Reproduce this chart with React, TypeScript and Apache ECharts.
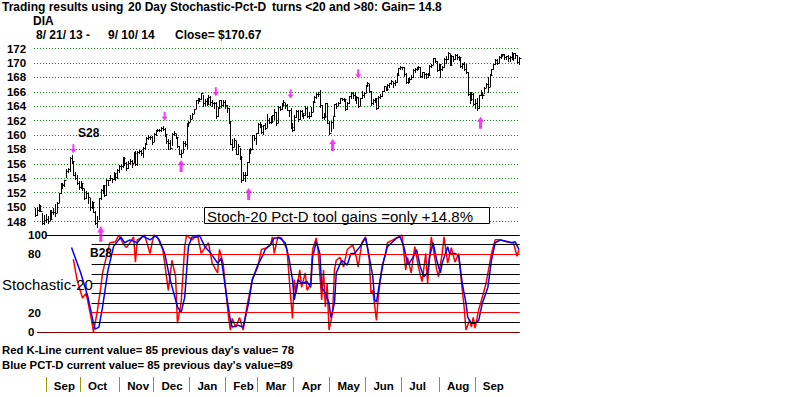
import React, { useEffect, useRef } from 'react';
import * as echarts from 'echarts';

// ---------- DATA ----------
const MONTHS = ['Aug', 'Sep', 'Oct', 'Nov', 'Dec', 'Jan', 'Feb', 'Mar', 'Apr', 'May', 'Jun', 'Jul', 'Aug', 'Sep'];
const MONTH_DAYS = [8, 20, 23, 20, 21, 21, 19, 21, 21, 21, 21, 22, 21, 7];

const closes = [
  148.97, 149.63, 150.10, 149.46, 147.76, 148.24, 148.40, 148.10,
  148.33, 149.30, 149.37, 149.22, 150.63, 151.91, 153.26, 153.00, 153.76, 154.94, 155.29, 156.76, 156.36, 154.51, 154.01, 153.34, 152.73, 153.28, 152.58, 151.29,
  151.91, 151.33, 149.96, 150.72, 149.36, 147.76, 148.02, 151.26, 152.37, 153.01, 151.68, 153.73, 153.71, 153.99, 153.92, 154.67, 154.13, 155.09, 155.70, 155.68, 156.80, 156.18, 155.46,
  156.15, 156.39, 156.18, 157.46, 155.93, 157.62, 157.83, 157.50, 158.21, 158.76, 159.61, 159.76, 159.67, 159.00, 160.09, 160.64, 160.73, 160.72, 160.97, 160.86,
  160.08, 159.14, 158.89, 158.21, 160.20, 160.25, 159.73, 158.44, 157.39, 157.55, 158.84, 158.75, 161.67, 161.79, 162.21, 162.94, 163.58, 164.79, 164.78, 165.05, 165.77,
  164.41, 164.70, 164.25, 165.30, 164.62, 164.44, 164.37, 162.57, 163.74, 164.81, 164.18, 164.59, 164.15, 163.73, 161.98, 158.79, 158.38, 159.29, 157.39, 158.49, 156.99,
  153.73, 154.45, 154.40, 156.28, 157.95, 158.01, 159.94, 159.64, 160.27, 161.54, 161.30, 160.40, 161.33, 161.04, 162.08, 161.79, 161.98, 162.72, 163.22,
  161.68, 163.95, 163.61, 164.22, 164.53, 164.19, 163.51, 163.40, 161.09, 160.66, 162.48, 163.37, 162.23, 163.32, 163.03, 162.76, 163.68, 162.68, 162.64, 163.23, 164.58,
  165.33, 165.73, 165.73, 164.13, 162.46, 162.57, 164.38, 161.71, 160.27, 161.74, 162.63, 164.25, 164.09, 164.50, 165.15, 165.02, 165.01, 163.61, 164.49, 165.36, 165.81,
  165.59, 165.13, 165.31, 164.02, 165.18, 165.50, 165.84, 166.96, 167.16, 166.14, 164.47, 164.92, 165.11, 163.75, 165.33, 165.43, 166.06, 166.76, 166.33, 166.99, 167.17,
  167.43, 167.22, 167.38, 168.36, 169.24, 169.43, 169.45, 168.43, 167.34, 167.76, 167.81, 168.08, 169.06, 169.21, 169.47, 169.37, 168.18, 168.68, 168.46, 168.51, 168.27,
  169.56, 169.76, 170.68, 170.24, 169.06, 169.85, 169.15, 169.44, 170.55, 170.60, 171.38, 169.77, 171.00, 170.52, 171.13, 170.86, 170.83, 169.60, 169.82, 169.12, 168.80, 165.63,
  164.93, 165.69, 164.29, 164.43, 163.68, 165.53, 165.69, 165.60, 166.51, 167.13, 166.62, 168.38, 169.19, 169.79, 170.39, 170.01, 170.76, 171.07, 171.22, 170.79, 170.98,
  170.68, 170.78, 170.69, 171.38, 171.12, 170.14, 170.67,
];

const highs = [
  149.9, 150.0, 150.4, 150.3, 149.2, 148.9, 149.1, 148.7,
  149.6, 149.6, 149.9, 150.4, 150.7, 152.0, 153.3, 153.3, 153.8, 155.3, 155.4, 156.9, 157.2, 156.4, 154.8, 154.4, 153.6, 153.6, 153.2, 152.5,
  152.2, 151.9, 151.3, 150.9, 150.7, 149.5, 148.7, 151.3, 152.5, 153.1, 153.0, 153.9, 153.8, 154.4, 154.1, 154.8, 154.7, 155.3, 155.9, 155.9, 156.9, 156.9, 156.3,
  156.4, 156.7, 156.6, 157.7, 157.8, 157.8, 157.9, 157.9, 158.3, 158.9, 159.7, 160.0, 159.9, 159.9, 160.3, 160.7, 160.9, 160.9, 161.1, 161.2,
  161.0, 160.1, 159.4, 159.3, 160.3, 160.5, 160.2, 159.7, 158.5, 157.9, 159.2, 159.1, 161.7, 161.9, 162.8, 163.1, 163.6, 164.9, 165.1, 165.2, 165.8,
  165.6, 165.0, 165.1, 165.5, 165.4, 164.9, 164.6, 164.6, 163.9, 164.9, 164.8, 164.8, 164.9, 164.2, 163.7, 161.9, 159.4, 159.6, 159.2, 158.7, 158.2,
  157.1, 154.9, 154.8, 156.3, 158.0, 158.2, 160.0, 160.0, 160.3, 161.6, 161.8, 161.5, 161.4, 161.6, 162.9, 162.4, 162.6, 162.8, 163.6,
  163.2, 164.0, 164.0, 164.4, 164.8, 164.5, 164.3, 163.5, 163.7, 161.6, 162.8, 163.5, 163.4, 163.4, 163.5, 163.1, 164.0, 163.9, 163.2, 163.9, 164.7,
  165.4, 165.8, 166.0, 166.3, 164.2, 163.0, 164.4, 164.4, 161.9, 162.0, 162.7, 164.3, 164.4, 164.6, 165.2, 165.2, 165.2, 164.9, 164.6, 165.4, 165.9,
  166.0, 165.9, 165.4, 165.3, 165.2, 166.1, 165.9, 167.0, 167.3, 167.1, 166.1, 165.0, 165.2, 165.1, 165.4, 165.7, 166.1, 166.8, 166.7, 167.1, 167.2,
  167.6, 167.4, 167.6, 168.6, 169.3, 169.6, 169.5, 169.4, 168.6, 167.9, 168.1, 168.3, 169.1, 169.3, 169.5, 169.6, 169.5, 168.8, 168.7, 168.6, 168.6,
  169.7, 169.8, 170.7, 170.7, 170.2, 169.9, 169.8, 169.6, 170.7, 170.9, 171.5, 171.3, 171.1, 171.0, 171.3, 171.2, 171.0, 170.8, 170.0, 170.1, 169.8, 168.8,
  165.9, 165.9, 165.8, 165.0, 165.1, 165.6, 166.2, 165.9, 166.6, 167.2, 168.0, 168.5, 169.2, 169.8, 170.6, 170.5, 170.9, 171.2, 171.3, 171.2, 171.0,
  171.1, 171.0, 171.5, 171.4, 171.4, 171.1, 170.8,
];

const lows = [
  148.8, 148.9, 149.4, 149.4, 147.7, 147.6, 148.0, 147.8,
  148.2, 148.3, 149.1, 148.7, 149.3, 150.7, 151.9, 152.6, 152.9, 154.2, 154.8, 155.0, 156.1, 154.5, 153.9, 153.2, 152.5, 152.7, 152.4, 151.1,
  151.2, 150.6, 149.6, 149.9, 149.3, 147.7, 147.3, 148.4, 151.1, 151.9, 151.6, 151.7, 153.1, 153.7, 153.5, 153.9, 153.8, 154.1, 154.9, 155.3, 155.6, 155.8, 155.2,
  155.4, 156.0, 155.6, 156.2, 155.9, 155.8, 157.5, 157.2, 157.0, 158.1, 158.8, 159.5, 159.4, 158.7, 159.1, 160.0, 160.5, 160.5, 160.6, 160.7,
  159.8, 158.9, 158.0, 158.0, 158.6, 160.0, 159.6, 158.4, 157.3, 157.0, 157.7, 158.5, 158.2, 161.2, 161.9, 162.4, 163.0, 163.7, 164.5, 164.7, 165.0,
  164.0, 164.2, 164.1, 164.3, 164.2, 164.0, 163.8, 162.4, 162.6, 163.8, 163.9, 164.0, 163.7, 163.2, 161.7, 158.7, 157.9, 158.5, 157.3, 157.4, 156.7,
  153.5, 153.7, 153.6, 154.4, 156.3, 157.5, 158.0, 159.3, 158.7, 160.3, 161.1, 160.3, 160.2, 160.9, 161.1, 161.6, 161.6, 161.8, 162.2,
  161.4, 161.8, 163.4, 163.6, 164.1, 163.8, 163.4, 162.6, 161.0, 160.6, 160.7, 162.5, 161.9, 162.2, 162.7, 162.3, 162.8, 162.5, 162.3, 162.7, 163.3,
  164.6, 165.2, 165.4, 163.9, 162.4, 162.2, 162.5, 161.6, 160.2, 160.6, 161.0, 162.6, 163.8, 164.1, 164.5, 164.8, 164.7, 163.5, 163.6, 164.5, 165.1,
  165.2, 164.8, 164.5, 163.9, 164.1, 165.1, 165.3, 165.9, 166.8, 166.0, 164.1, 164.3, 164.6, 163.6, 163.8, 165.1, 165.4, 166.1, 166.2, 166.3, 166.6,
  167.1, 166.7, 167.0, 167.3, 168.3, 169.2, 169.2, 168.2, 167.2, 167.2, 167.4, 167.7, 168.0, 168.8, 169.0, 169.2, 168.1, 168.1, 167.9, 167.9, 168.1,
  168.3, 169.4, 169.8, 170.1, 168.9, 169.0, 168.0, 169.0, 169.5, 170.0, 170.6, 169.7, 169.8, 170.3, 170.6, 170.6, 170.4, 169.4, 169.3, 169.0, 168.6, 165.6,
  164.5, 164.9, 164.1, 163.7, 163.4, 163.7, 165.5, 165.2, 165.8, 166.6, 166.0, 166.8, 168.5, 169.1, 169.9, 169.8, 170.1, 170.7, 171.0, 170.5, 170.5,
  170.3, 170.3, 170.5, 170.4, 170.7, 170.0, 169.9,
];

// Stochastic (day index, value)
const kLine = [
  [21, 75], [23, 54], [26, 35], [28, 40], [31, 12], [32, 0], [34, 20], [36, 46], [37, 61], [39, 77], [41, 92], [44, 93], [46, 100], [48, 92], [50, 87], [52, 92], [54, 98], [55, 72], [56, 95], [59, 98], [60, 100], [63, 81], [65, 100], [67, 98], [70, 85], [71, 71], [73, 43], [75, 74], [77, 57], [78, 9], [80, 30], [82, 88], [83, 100], [86, 95], [89, 100], [91, 81], [95, 92], [97, 71], [100, 61], [101, 85], [103, 71], [106, 15], [107, 2], [108, 14], [110, 5], [112, 15], [114, 2], [116, 26], [119, 54], [122, 67], [124, 85], [127, 87], [129, 90], [130, 98], [131, 81], [133, 98], [135, 97], [138, 85], [140, 36], [141, 14], [142, 54], [143, 40], [145, 64], [146, 46], [148, 61], [149, 43], [151, 50], [152, 85], [154, 97], [155, 85], [157, 33], [158, 64], [159, 26], [160, 50], [161, 2], [163, 20], [164, 64], [165, 74], [167, 77], [169, 67], [171, 85], [174, 90], [176, 77], [177, 67], [179, 92], [181, 98], [183, 77], [184, 40], [185, 43], [187, 12], [188, 36], [190, 67], [192, 81], [193, 92], [196, 95], [199, 98], [201, 100], [203, 64], [204, 77], [206, 61], [208, 88], [210, 67], [212, 52], [214, 81], [215, 50], [217, 98], [218, 88], [220, 64], [221, 57], [223, 81], [224, 98], [226, 71], [228, 87], [230, 72], [232, 81], [234, 43], [235, 26], [236, 2], [238, 12], [239, 5], [240, 15], [241, 4], [243, 23], [245, 36], [247, 50], [250, 81], [252, 95], [255, 95], [258, 93], [262, 92], [264, 78], [265, 85],
];
const dLine = [
  [20, 87], [25, 61], [29, 36], [32, 9], [33, 3], [35, 5], [37, 26], [40, 64], [43, 88], [47, 98], [49, 92], [52, 95], [56, 92], [59, 99], [63, 95], [66, 99], [68, 95], [71, 81], [74, 54], [78, 26], [80, 20], [82, 36], [84, 88], [86, 98], [89, 98], [90, 100], [93, 88], [96, 82], [100, 71], [102, 76], [105, 36], [107, 12], [108, 5], [111, 7], [114, 5], [117, 30], [119, 54], [122, 69], [125, 80], [126, 85], [129, 90], [131, 97], [134, 97], [137, 92], [139, 77], [141, 54], [142, 33], [144, 54], [146, 50], [149, 52], [151, 46], [152, 77], [154, 93], [156, 81], [157, 46], [159, 40], [161, 30], [162, 15], [164, 30], [165, 61], [168, 74], [171, 69], [173, 81], [175, 81], [178, 88], [181, 97], [182, 88], [185, 57], [186, 33], [187, 31], [189, 54], [191, 74], [193, 88], [196, 93], [198, 97], [200, 98], [202, 88], [204, 71], [205, 71], [207, 77], [209, 85], [211, 67], [213, 57], [215, 61], [216, 77], [218, 92], [220, 74], [222, 61], [223, 71], [226, 88], [227, 81], [230, 81], [232, 79], [234, 50], [236, 30], [237, 15], [239, 9], [241, 9], [243, 12], [245, 30], [248, 46], [250, 74], [252, 92], [255, 95], [259, 93], [261, 92], [263, 93], [264, 89], [265, 85],
];

// Signals: [day index, price level of arrow]
const sellSignals = [[21, 158.1], [71, 162.6], [99, 166.0], [140, 165.7], [177, 168.5]];
const buySignals = [[36, 146.3], [80, 155.7], [117, 151.8], [163, 158.6], [244, 161.7]];

const PRICE_MIN = 148;
const PRICE_MAX = 172;
const PRICE_STEP = 2;
const STOCH_LABELS = [0, 20, 80, 100];

// horizontal guide lines in stochastic panel: value, start day index, color
const STOCH_LINES = [
  { v: 100, from: 5.5, color: '#000000' },
  { v: 90, from: 31, color: '#000000' },
  { v: 80, from: 41, color: '#ff0000' },
  { v: 70, from: 31, color: '#000000' },
  { v: 60, from: 31, color: '#000000' },
  { v: 50, from: 31, color: '#000000' },
  { v: 40, from: 31, color: '#000000' },
  { v: 30, from: 31, color: '#000000' },
  { v: 20, from: 31, color: '#ff0000' },
  { v: 10, from: 31, color: '#000000' },
  { v: 0, from: 1, color: '#800000' },
];

const FF = '"Liberation Sans", Arial, Helvetica, sans-serif';
const BOLD12 = `bold 12px ${FF}`;
const BOLDSM = `bold 11.3px ${FF}`;
const SEP_COLOR = '#999900';

export default function App() {
  const ref = useRef<HTMLDivElement>(null);

  useEffect(() => {
    if (!ref.current) return;
    const chart = echarts.init(ref.current, null, { renderer: 'svg' });

    const nDays = closes.length;
    const dayCats: string[] = [];
    const monthStarts: number[] = [];
    MONTHS.forEach((m, mi) => {
      monthStarts.push(dayCats.length);
      for (let d = 0; d < MONTH_DAYS[mi]; d++) dayCats.push(`${m}|${mi}|${d}`);
    });
    const seps = monthStarts.slice(1);
    const sepSet = new Set(seps);

    const barData = closes.map((c, i) => [i, lows[i], highs[i], c]);
    const xMin = -0.5;
    const xMax = nDays - 0.5;

    const text = (t: string, x: number, y: number, font = BOLD12) => ({
      type: 'text',
      x,
      y,
      z: 100,
      style: { text: t, font, fill: '#000', textAlign: 'left', textVerticalAlign: 'middle', verticalAlign: 'middle' },
    });

    const option: any = {
      animation: false,
      backgroundColor: '#ffffff',
      grid: [
        { left: 34.1, top: 48.5, width: 485.7, height: 173, outerBoundsMode: 'none' },
        { left: 34.1, top: 235, width: 485.7, height: 97, outerBoundsMode: 'none' },
        { left: 31.3, top: 377, width: 454.6, height: 15, outerBoundsMode: 'none' },
      ],
      xAxis: [
        { gridIndex: 0, type: 'value', min: xMin, max: xMax, show: false },
        { gridIndex: 1, type: 'value', min: xMin, max: xMax, show: false },
        {
          gridIndex: 2,
          type: 'category',
          data: dayCats,
          boundaryGap: true,
          axisLine: { show: false },
          axisTick: { show: false },
          splitLine: { show: false },
          axisLabel: {
            show: true,
            interval: (idx: number) => sepSet.has(idx),
            formatter: (v: any) => (v ? String(v).split('|')[0] : ''),
            align: 'left',
            verticalAlign: 'middle',
            padding: [0, 0, 0, 8],
            margin: -6,
            color: '#000',
            fontWeight: 'bold',
            fontSize: 11.5,
            fontFamily: FF,
          },
        },
      ],
      yAxis: [
        {
          gridIndex: 0,
          type: 'value',
          min: PRICE_MIN,
          max: PRICE_MAX,
          interval: PRICE_STEP,
          axisLine: { show: false },
          axisTick: { show: false },
          splitLine: { show: true, lineStyle: { color: '#008000', width: 1, type: [1, 2] } },
          axisLabel: { color: '#000', fontWeight: 'bold', fontSize: 11.5, fontFamily: FF, margin: 8 },
        },
        {
          gridIndex: 1,
          type: 'value',
          min: 0,
          max: 100,
          interval: 10,
          axisLine: { show: false },
          axisTick: { show: false },
          splitLine: { show: false },
          axisLabel: {
            color: '#000',
            fontWeight: 'bold',
            fontSize: 11.5,
            fontFamily: FF,
            align: 'left',
            margin: 6,
            formatter: (v: number) => (STOCH_LABELS.includes(v) ? String(v) : ''),
          },
        },
        { gridIndex: 2, type: 'value', min: 0, max: 1, show: false },
      ],
      series: [
        {
          type: 'custom',
          name: 'DIA',
          xAxisIndex: 0,
          yAxisIndex: 0,
          clip: false,
          z: 3,
          encode: { x: 0, y: [1, 2, 3] },
          data: barData,
          renderItem: (_params: any, api: any) => {
            const i = api.value(0);
            const pHi = api.coord([i, api.value(2)]);
            const pLo = api.coord([i, api.value(1)]);
            const pC = api.coord([i, api.value(3)]);
            const x = Math.round(pHi[0]) + 0.5;
            const yc = Math.round(pC[1]) + 0.5;
            return {
              type: 'group',
              children: [
                {
                  type: 'line',
                  shape: { x1: x, y1: Math.round(pHi[1]), x2: x, y2: Math.round(pLo[1]) + 1 },
                  style: { stroke: '#000', lineWidth: 1 },
                },
                {
                  type: 'line',
                  shape: { x1: x, y1: yc, x2: x + 2, y2: yc },
                  style: { stroke: '#000', lineWidth: 1 },
                },
              ],
            };
          },
        },
        {
          type: 'scatter',
          name: 'sell',
          xAxisIndex: 0,
          yAxisIndex: 0,
          clip: false,
          z: 5,
          symbol: 'path://M2,0 L4,0 L4,5 L6,5 L3,9 L0,5 L2,5 Z',
          symbolSize: [6, 9],
          symbolKeepAspect: false,
          itemStyle: { color: '#ff00ff' },
          data: sellSignals,
        },
        {
          type: 'scatter',
          name: 'buy',
          xAxisIndex: 0,
          yAxisIndex: 0,
          clip: false,
          z: 5,
          symbol: 'path://M3.5,0 L7,5 L5,5 L5,12 L2,12 L2,5 L0,5 Z',
          symbolSize: [7, 12],
          symbolKeepAspect: false,
          itemStyle: { color: '#ff00ff' },
          data: buySignals.map((v, i) => (i === 0 ? { value: v, symbolSize: [7, 16] } : v)),
        },
        {
          type: 'line',
          name: 'guides',
          xAxisIndex: 1,
          yAxisIndex: 1,
          data: [],
          z: 1,
          markLine: {
            silent: true,
            symbol: ['none', 'none'],
            label: { show: false },
            animation: false,
            data: STOCH_LINES.map((h) => [
              { coord: [h.from, h.v], lineStyle: { color: h.color, width: 1, type: 'solid' } },
              { coord: [xMax, h.v] },
            ]),
          },
        },
        {
          type: 'line',
          name: 'K',
          xAxisIndex: 1,
          yAxisIndex: 1,
          z: 3,
          symbol: 'none',
          lineStyle: { color: '#ff0000', width: 1.5 },
          data: kLine,
        },
        {
          type: 'line',
          name: 'D',
          xAxisIndex: 1,
          yAxisIndex: 1,
          z: 4,
          symbol: 'none',
          lineStyle: { color: '#0000ff', width: 1.5 },
          data: dLine,
        },
        {
          type: 'line',
          name: 'monthSeparators',
          xAxisIndex: 2,
          yAxisIndex: 2,
          data: [],
          z: 2,
          markLine: {
            silent: true,
            symbol: ['none', 'none'],
            label: { show: false },
            animation: false,
            data: seps.map((s) => [
              { coord: [s, 0], lineStyle: { color: SEP_COLOR, width: 1, type: 'solid' } },
              { coord: [s, 1] },
            ]),
          },
        },
      ],
      graphic: [
        text('Trading results using', 2, 6.5),
        text('20 Day Stochastic-Pct-D', 128, 6.5),
        text('turns <20 and >80: Gain= 14.8', 272, 6.5),
        text('DIA', 33, 20.5),
        text('8/ 21/ 13 -', 36, 34.5),
        text('9/ 10/ 14', 108, 34.5),
        text('Close= $170.67', 175, 34.5),
        text('S28', 78, 132.5),
        text('B28', 90, 252.5),
        text('Stochastic-20', 2, 284, `15px ${FF}`),
        {
          type: 'rect',
          z: 99,
          shape: { x: 204.5, y: 207.5, width: 285, height: 16 },
          style: { fill: '#ffffff', stroke: '#000000', lineWidth: 1 },
        },
        text('Stoch-20 Pct-D tool gains =only +14.8%', 207, 216, `15px ${FF}`),
        text("Red K-Line current value= 85 previous day's value= 78", 2, 350, BOLDSM),
        text("Blue PCT-D current value= 85 previous day's value=89", 2, 364.5, BOLDSM),
      ],
    };

    chart.setOption(option);
    return () => chart.dispose();
  }, []);

  return (
    <div
      ref={ref}
      style={{ position: 'fixed', left: 0, top: 0, width: 800, height: 397, background: '#fff' }}
    />
  );
}
